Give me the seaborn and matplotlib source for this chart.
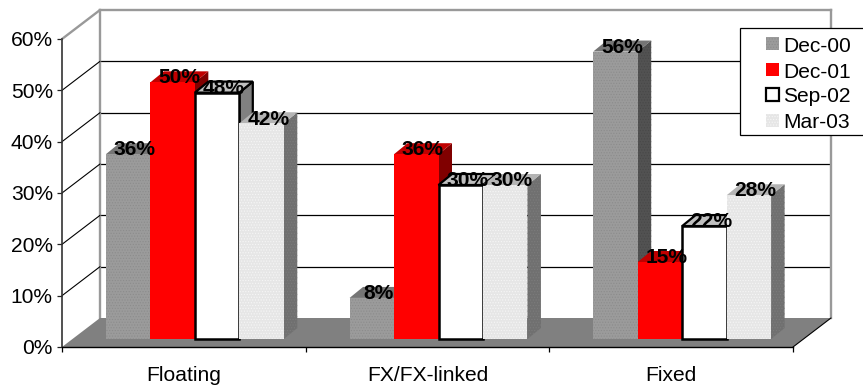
import matplotlib
matplotlib.use("Agg")
import matplotlib.pyplot as plt
from matplotlib.patches import Polygon, Rectangle
import pandas as pd
import seaborn as sns

sns.set_theme(style="white")
plt.rcParams["font.family"] = ["Liberation Sans", "DejaVu Sans"]
plt.rcParams["hatch.linewidth"] = 0.5

categories = ["Floating", "FX/FX-linked", "Fixed"]
dates = ["Dec-00", "Dec-01", "Sep-02", "Mar-03"]
dec_00 = [36, 8, 56]
dec_01 = [50, 36, 15]
sep_02 = [48, 30, 22]
mar_03 = [42, 30, 28]
y_ticks = [0, 10, 20, 30, 40, 50, 60]

# Face, top and side shades for each series
face_colors = ["#9b9b9b", "#ff0000", "#ffffff", "#e6e6e6"]
top_colors = ["#757575", "#c00000", "#c0c0c0", "#b4b4b4"]
side_colors = ["#525252", "#800000", "#808080", "#707070"]
hatch_colors = ["#8c8c8c", "#ff0000", "#ffffff", "#f6f6f6"]
side_hatch = ["#484848", "#800000", "#808080", "#7c7c7c"]
edge_colors = [None, None, "#000000", None]

W, H = 863, 385
FS = 15.1
fig = plt.figure(figsize=(W / 100, H / 100), dpi=100)
fig.patch.set_facecolor("white")


def box(left, right, bottom, top):
    return [left / W, 1 - bottom / H, (right - left) / W, (bottom - top) / H]


CAT_PX = (793 - 62) / 3
PCT_PX = (347 - 39) / 60
XLIM = (-0.5, 2.5)
YLIM = (0, 60)

ax_back = fig.add_axes(box(100, 831, 318, 10), zorder=1)
ax_bars = fig.add_axes(box(73, 804, 339, 31), zorder=2)
ax_front = fig.add_axes(box(62, 793, 347, 39), zorder=1.5)
for ax in (ax_back, ax_bars, ax_front):
    ax.set_xlim(*XLIM)
    ax.set_ylim(*YLIM)
    ax.patch.set_alpha(0)

# Back wall with its horizontal gridlines
ax_back.set_yticks(y_ticks[1:-1])
ax_back.set_xticks([])
ax_back.set_yticklabels([])
ax_back.tick_params(length=0)
ax_back.grid(axis="y", color="#000000", linewidth=0.9)
ax_back.set_axisbelow(True)
for name in ("left", "right", "top"):
    ax_back.spines[name].set_color("#999999")
    ax_back.spines[name].set_linewidth(1.7)
ax_back.spines["bottom"].set_visible(False)

# Floor and the depth lines, expressed from the front plane
wall_dx = 38 / CAT_PX
wall_dy = 29 / PCT_PX
ax_front.add_patch(Polygon(
    [(XLIM[0], 0), (XLIM[1], 0), (XLIM[1] + wall_dx, wall_dy), (XLIM[0] + wall_dx, wall_dy)],
    closed=True, facecolor="#808080", edgecolor="none", clip_on=False, zorder=0))
ax_front.plot([XLIM[1], XLIM[1] + wall_dx], [0, wall_dy], color="#000000", lw=0.8,
              clip_on=False, zorder=1)
for tick in y_ticks[1:-1]:
    ax_front.plot([XLIM[0], XLIM[0] + wall_dx], [tick, tick + wall_dy], color="#000000",
                  lw=0.8, clip_on=False, zorder=1)
ax_front.plot([XLIM[0], XLIM[0] + wall_dx], [60, 60 + wall_dy], color="#999999", lw=1.7,
              clip_on=False, zorder=1)

# Bars
frame = pd.DataFrame({
    "category": categories * 4,
    "date": [d for d in dates for _ in categories],
    "value": dec_00 + dec_01 + sep_02 + mar_03,
})
sns.barplot(data=frame, x="category", y="value", hue="date", order=categories,
            hue_order=dates, palette=face_colors, width=0.73, gap=0, legend=False,
            saturation=1, ax=ax_bars, linewidth=0)
ax_bars.set_xlim(*XLIM)
ax_bars.set_ylim(*YLIM)
ax_bars.axis("off")

bar_dx = 13.5 / CAT_PX
bar_dy = 11 / PCT_PX
n_cat = len(categories)
for i, patch in enumerate(ax_bars.patches[: n_cat * len(dates)]):
    s = i // n_cat
    order = 10 + 3 * i
    x0, w, h = patch.get_x(), patch.get_width(), patch.get_height()
    edge = edge_colors[s]
    stroke = {"edgecolor": edge, "linewidth": 1.6} if edge else {"edgecolor": "none", "linewidth": 0}
    top = Polygon([(x0, h), (x0 + w, h), (x0 + w + bar_dx, h + bar_dy), (x0 + bar_dx, h + bar_dy)],
                  closed=True, facecolor=top_colors[s], clip_on=False, zorder=order, **stroke)
    side = Polygon([(x0 + w, 0), (x0 + w + bar_dx, bar_dy), (x0 + w + bar_dx, h + bar_dy), (x0 + w, h)],
                   closed=True, facecolor=side_colors[s], clip_on=False, zorder=order, **stroke)
    if s in (0, 3):
        side.set_hatch("......")
        side.set_edgecolor(side_hatch[s])
        side.set_linewidth(0)
    ax_bars.add_patch(side)
    ax_bars.add_patch(top)
    patch.set_zorder(order + 1)
    patch.set_clip_on(False)
    if s in (0, 3):
        patch.set_hatch("......")
        patch.set_edgecolor(hatch_colors[s])
        patch.set_linewidth(0)
    if edge:
        patch.set_edgecolor(edge)
        patch.set_linewidth(1.8)
    ax_bars.annotate(f"{h:.0f}%", (x0 + w / 2 + bar_dx / 2, h), xytext=(0, -0.8),
                     textcoords="offset points", ha="center", va="baseline", fontsize=FS,
                     fontweight="bold", color="#000000", zorder=100, annotation_clip=False)

# Front axes: percent scale and category labels
ax_front.set_yticks(y_ticks)
ax_front.set_yticklabels([f"{t}%" for t in y_ticks], fontsize=FS, color="#000000")
ax_front.tick_params(axis="y", length=3.6, width=0.9, color="#222222", pad=3, left=True)
ax_front.set_xticks(range(n_cat))
ax_front.set_xticklabels(categories, fontsize=FS, color="#000000")
ax_front.set_xticks([-0.5, 0.5, 1.5, 2.5], minor=True)
ax_front.tick_params(axis="x", which="major", length=0, pad=13.5)
ax_front.tick_params(axis="x", which="minor", length=3.6, width=0.9, color="#000000", bottom=True)
ax_front.set_xlabel("")
ax_front.set_ylabel("")
for name in ("top", "right"):
    ax_front.spines[name].set_visible(False)
ax_front.spines["left"].set_color("#333333")
ax_front.spines["left"].set_linewidth(1.2)
ax_front.spines["bottom"].set_color("#000000")
ax_front.spines["bottom"].set_linewidth(1.0)

# Legend panel reaching the right edge of the figure
panel = Rectangle((739.5 / W, 1 - 135 / H), 130 / W, 107 / H, transform=fig.transFigure,
                  facecolor="white", edgecolor="#000000", linewidth=0.9, zorder=200)
fig.add_artist(panel)
swatch_top = [37, 63, 88, 114]
for s, (label, y) in enumerate(zip(dates, swatch_top)):
    swatch = Rectangle((765.5 / W, 1 - (y + 13) / H), 13 / W, 13 / H, transform=fig.transFigure,
                       facecolor=face_colors[s], edgecolor=edge_colors[s] or "none",
                       linewidth=1.6 if edge_colors[s] else 0, zorder=201)
    if s in (0, 3):
        swatch.set_hatch("......")
        swatch.set_edgecolor(hatch_colors[s])
    fig.add_artist(swatch)
    fig.text(783 / W, 1 - (y + 14.5) / H, label, fontsize=FS, color="#000000", ha="left",
             va="baseline", zorder=202)

fig.savefig("out.png", dpi=100, facecolor="white")
